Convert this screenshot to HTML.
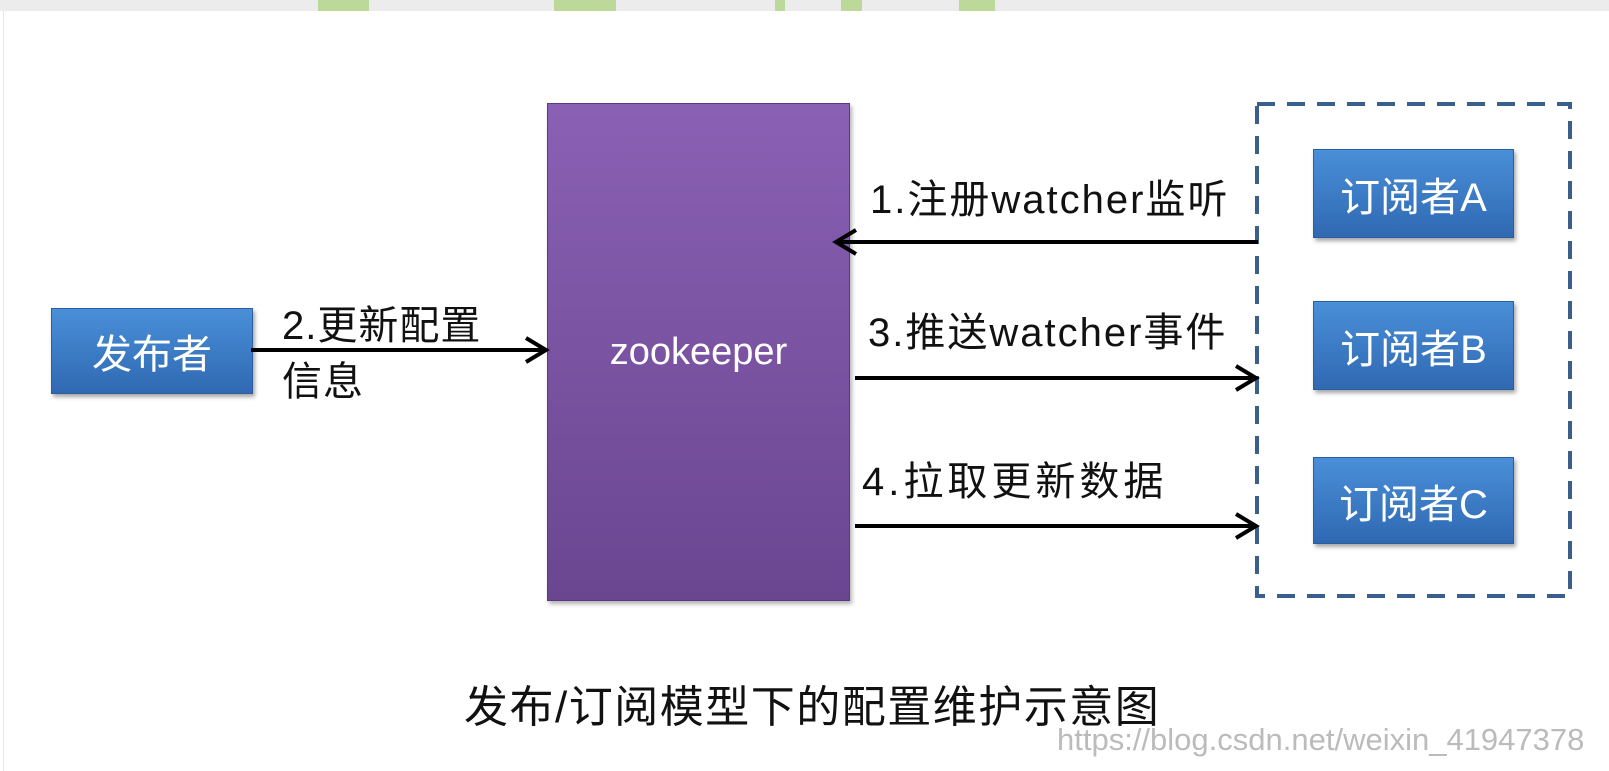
<!DOCTYPE html>
<html><head><meta charset="utf-8"><style>
body{margin:0;width:1609px;height:770px;background:#fff;position:relative;overflow:hidden;font-family:"Liberation Sans","Noto Sans CJK SC",sans-serif}
.top{position:absolute;left:0;top:0;width:1609px;height:11px;background:#ececec}
.g{position:absolute;top:0;height:11px;background:#bcd99a}
.panel{position:absolute;left:3px;top:11px;width:1600px;height:760px;border-left:1px solid #e6e6e6}
.blue{position:absolute;background:linear-gradient(#4a8fd9,#2f69b2);border:1px solid #2a5e9e;box-shadow:2px 3px 4px rgba(0,0,0,.35);color:#fff;display:flex;align-items:center;justify-content:center;font-size:40px}
.zk{position:absolute;left:547px;top:103px;width:301px;height:496px;background:linear-gradient(#8a60b4,#6a4690);border:1px solid #5a3a80;box-shadow:2px 3px 4px rgba(0,0,0,.3);color:#fff;font-size:38px;display:flex;align-items:center;justify-content:center}
.lbl{position:absolute;font-size:40px;color:#111;line-height:56px;white-space:nowrap}
</style></head><body>
<div class="top"></div>
<div class="g" style="left:318px;width:51px"></div>
<div class="g" style="left:554px;width:62px"></div>
<div class="g" style="left:775px;width:10px"></div>
<div class="g" style="left:841px;width:21px"></div>
<div class="g" style="left:959px;width:36px"></div>
<div class="panel"></div>
<div class="blue" style="left:51px;top:308px;width:200px;height:84px">发布者</div>
<div class="zk">zookeeper</div>
<div class="blue" style="left:1313px;top:149px;width:199px;height:87px">订阅者A</div>
<div class="blue" style="left:1313px;top:301px;width:199px;height:87px">订阅者B</div>
<div class="blue" style="left:1313px;top:457px;width:199px;height:85px">订阅者C</div>
<svg style="position:absolute;left:0;top:0" width="1609" height="770">
<rect x="1257" y="104" width="313" height="492" fill="none" stroke="#3a5f8c" stroke-width="4" stroke-dasharray="18,12"/>
<g stroke="#000" stroke-width="4" fill="none">
<line x1="1258" y1="242" x2="838" y2="242"/><polyline points="856,230 836,242 856,254"/>
<line x1="251" y1="350" x2="544" y2="350"/><polyline points="526,338 546,350 526,362"/>
<line x1="855" y1="378" x2="1254" y2="378"/><polyline points="1236,366 1256,378 1236,390"/>
<line x1="855" y1="526" x2="1254" y2="526"/><polyline points="1236,514 1256,526 1236,538"/>
</g></svg>
<div class="lbl" style="left:870px;top:172px;letter-spacing:2px">1.注册watcher监听</div>
<div class="lbl" style="left:282px;top:298px;letter-spacing:1px">2.更新配置<br>信息</div>
<div class="lbl" style="left:868px;top:305px;letter-spacing:2px">3.推送watcher事件</div>
<div class="lbl" style="left:862px;top:454px;letter-spacing:4px">4.拉取更新数据</div>
<div class="lbl" style="left:464px;top:680px;font-size:44px;letter-spacing:1.5px">发布/订阅模型下的配置维护示意图</div>
<div style="position:absolute;left:1057px;top:722px;font-size:31px;color:#bbb;white-space:nowrap">https://blog.csdn.net/weixin_41947378</div>
</body></html>
